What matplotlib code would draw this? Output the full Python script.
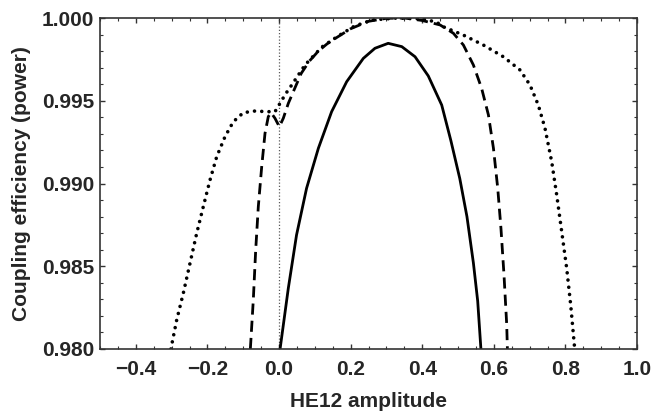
import numpy as np
import matplotlib
matplotlib.use('Agg')
import matplotlib.pyplot as plt
from matplotlib.ticker import MultipleLocator

# solid curve
x_solid = [0.003, 0.026, 0.049, 0.077, 0.110, 0.147, 0.189, 0.2355, 0.268, 0.305,
           0.343, 0.380, 0.417, 0.4545, 0.480, 0.505, 0.525, 0.543, 0.555, 0.564]
y_solid = [0.980, 0.98367, 0.98689, 0.98971, 0.99213, 0.99434, 0.99615, 0.99756,
           0.99817, 0.99847, 0.99827, 0.99766, 0.99650, 0.99474, 0.9926, 0.9903,
           0.9880, 0.9852, 0.9829, 0.980]

# dashed curve
x_dash = [-0.080, -0.0718, -0.0651, -0.0578, -0.0483, -0.0391, -0.0299, -0.0223,
          -0.0112, 0.001, 0.012, 0.026, 0.045, 0.062, 0.085, 0.110, 0.135, 0.156,
          0.20, 0.25, 0.30, 0.35, 0.40, 0.45, 0.487, 0.515, 0.543, 0.566, 0.585,
          0.599, 0.611, 0.620, 0.6285, 0.636, 0.638]
y_dash = [0.980, 0.98296, 0.98598, 0.98860, 0.99102, 0.99303, 0.99404, 0.99428,
          0.99394, 0.99343, 0.99394, 0.99484, 0.9958, 0.99665, 0.9974, 0.9980,
          0.99845, 0.99875, 0.99935, 0.9998, 0.99998, 1.0, 0.99985, 0.99958,
          0.99908, 0.99837, 0.99716, 0.99575, 0.99414, 0.99213, 0.98971, 0.98729,
          0.98447, 0.9815, 0.980]

# dotted curve
x_dot = [-0.302, -0.2858, -0.2673, -0.2486, -0.2299, -0.2115, -0.1927, -0.174,
         -0.1508, -0.1277, -0.0997, -0.067, -0.0344, -0.0112, 0.003, 0.018, 0.0355,
         0.0726, 0.12, 0.166, 0.21, 0.26, 0.33, 0.40, 0.44, 0.4589, 0.5148, 0.5706,
         0.6265, 0.6732, 0.7011, 0.7243, 0.743, 0.7617, 0.7757, 0.7897, 0.8036,
         0.8148, 0.826]
y_dot = [0.980, 0.98175, 0.98337, 0.98518, 0.98699, 0.98860, 0.99021, 0.99162,
         0.99283, 0.99373, 0.99428, 0.99438, 0.99434, 0.99434, 0.99485, 0.9954,
         0.99595, 0.99716, 0.99825, 0.99892, 0.9995, 0.99988, 1.0, 0.99995, 0.99975,
         0.99947, 0.99897, 0.99837, 0.99766, 0.99686, 0.99595, 0.99474, 0.99334,
         0.99132, 0.98931, 0.98709, 0.98488, 0.98266, 0.980]

x_ticks = [-0.4, -0.2, 0.0, 0.2, 0.4, 0.6, 0.8, 1.0]
x_labels = ['\u22120.4', '\u22120.2', '0.0', '0.2', '0.4', '0.6', '0.8', '1.0']
y_ticks = [0.980, 0.985, 0.990, 0.995, 1.000]
y_labels = ['0.980', '0.985', '0.990', '0.995', '1.000']

plt.rcParams['font.family'] = ['Liberation Sans', 'DejaVu Sans']
plt.rcParams['font.weight'] = 'bold'
txt = '#262626'

fig = plt.figure(figsize=(6.51, 4.16), dpi=100)
ax = fig.add_axes([100/651, 67/416, 537/651, 331/416])

ax.axvline(0, color='0.35', lw=0.9, ls=(0, (1, 1.6)), zorder=1)
ax.plot(x_solid, y_solid, color='black', lw=2.0, solid_capstyle='butt',
        solid_joinstyle='round')
ax.plot(x_dash, y_dash, color='black', lw=2.0, ls=(0, (4, 2.2)),
        dash_joinstyle='round')
ax.plot(x_dot, y_dot, color='black', lw=2.6, ls=(0, (0.01, 2.0)),
        dash_capstyle='round')

ax.set_xlim(-0.5, 1.0)
ax.set_ylim(0.980, 1.000)
ax.set_xticks(x_ticks)
ax.set_xticklabels(x_labels)
ax.set_yticks(y_ticks)
ax.set_yticklabels(y_labels)
ax.xaxis.set_minor_locator(MultipleLocator(0.05))
ax.yaxis.set_minor_locator(MultipleLocator(0.001))
ax.tick_params(which='both', direction='in', top=True, right=True,
               colors='#333333', labelcolor=txt, labelsize=15)
ax.tick_params(which='major', length=3.5, width=1.0)
ax.tick_params(which='minor', length=2.0, width=0.8)
ax.tick_params(axis='x', which='major', pad=8)
ax.tick_params(axis='y', which='major', pad=4)
for s in ax.spines.values():
    s.set_linewidth(1.2)
    s.set_color('#333333')

ax.set_xlabel('HE12 amplitude', fontsize=15, fontweight='bold', color=txt, labelpad=9)
ax.set_ylabel('Coupling efficiency (power)', fontsize=15, fontweight='bold',
              color=txt, labelpad=8)

fig.savefig('out.png', dpi=100)
